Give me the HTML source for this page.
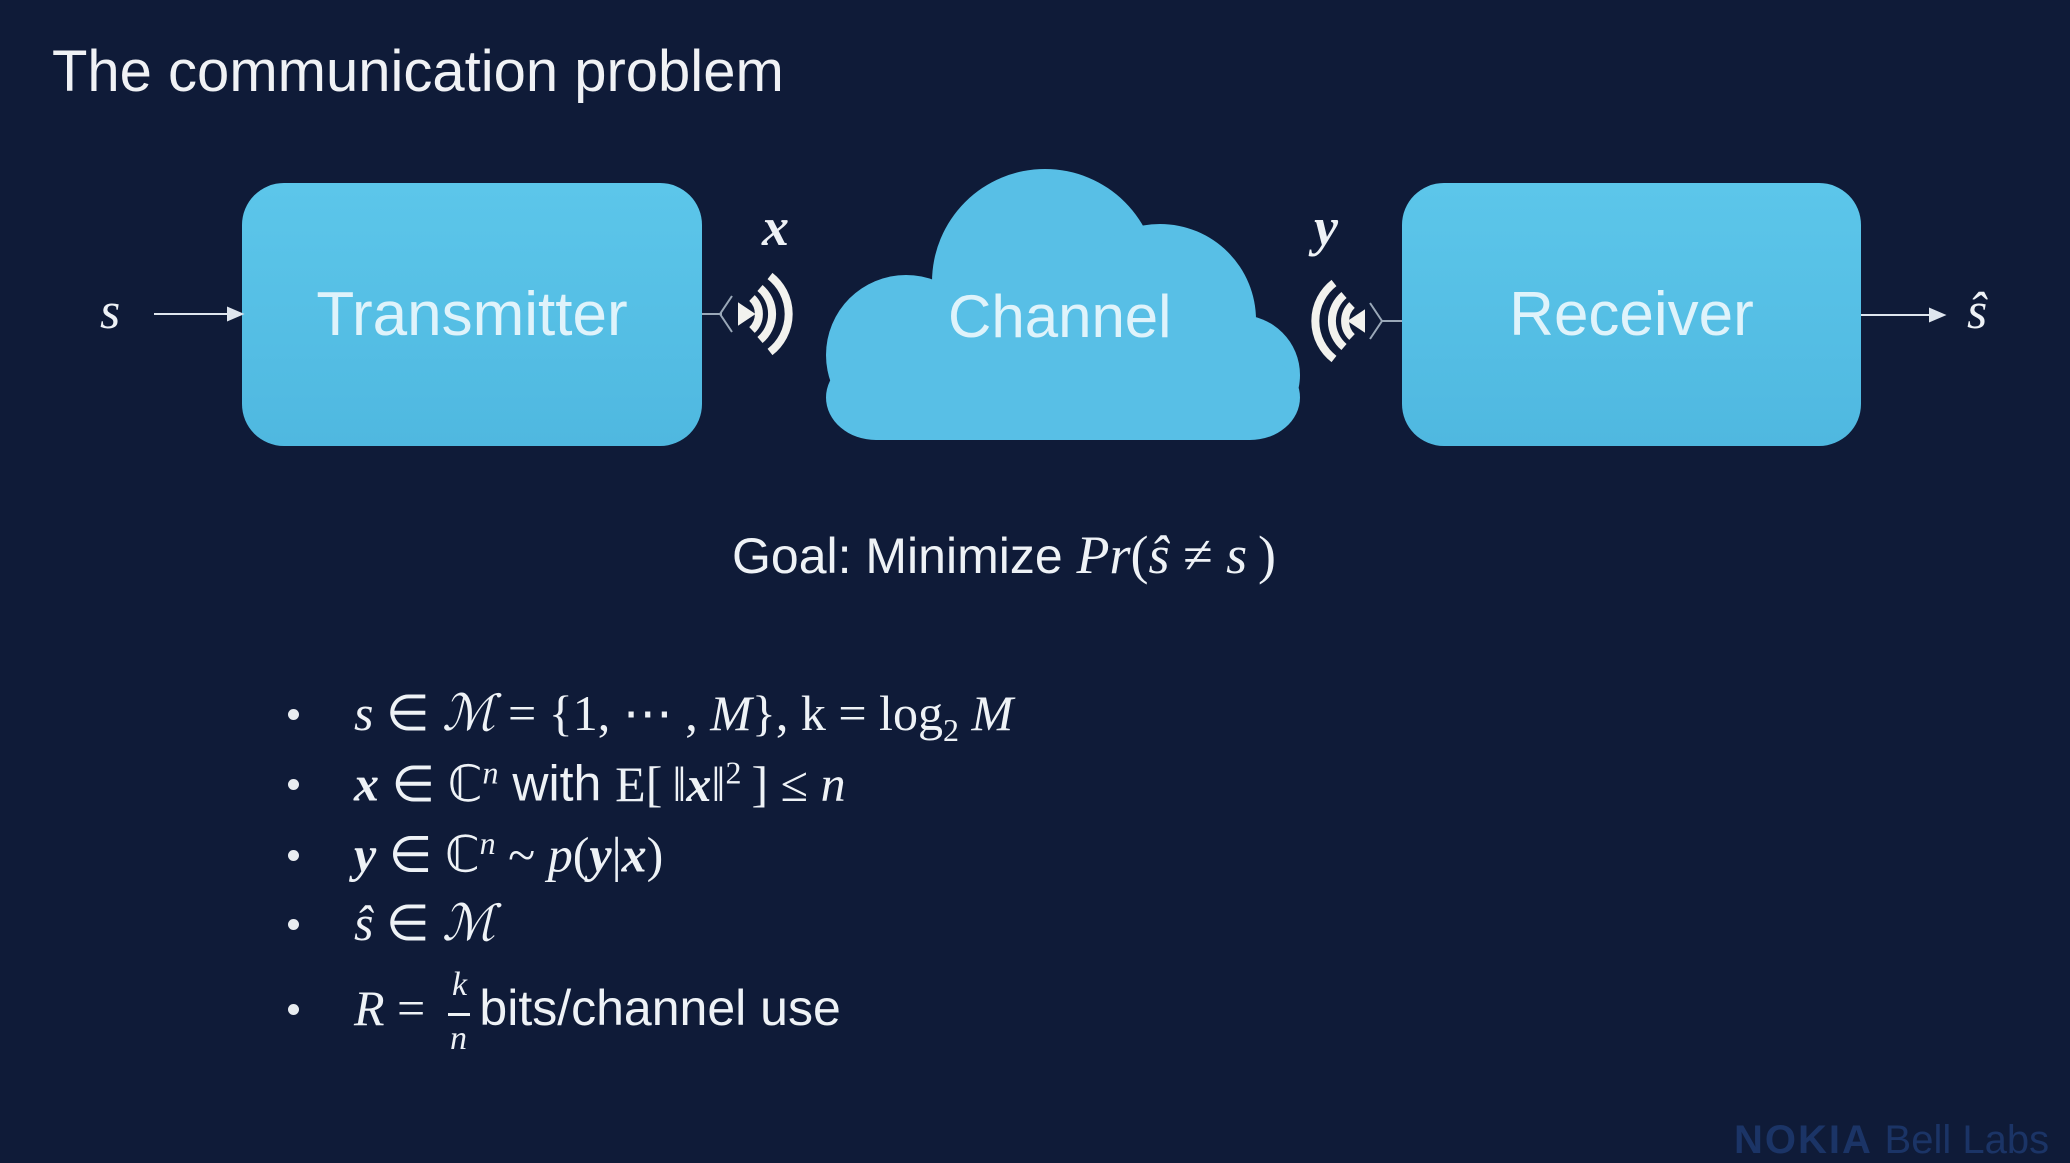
<!DOCTYPE html>
<html><head><meta charset="utf-8"><style>
body{margin:0;width:2070px;height:1152px;background:#0f1b38;overflow:hidden;position:relative;font-family:"Liberation Sans",sans-serif;color:#eef2f6}
.a{position:absolute;white-space:nowrap}
.box{position:absolute;background:linear-gradient(#5cc6ea,#4fb8e0);border-radius:42px;color:#dff3fb;font-size:62px;display:flex;align-items:center;justify-content:center}
.m{font-family:"Liberation Serif",serif;font-style:italic}
.r{font-family:"Liberation Serif",serif}
.b{font-size:50px;left:354px}
.dot{position:absolute;left:288px;width:11px;height:11px;border-radius:50%;background:#e8ecf0}
</style></head><body>
<div class="a" style="left:52px;top:38px;font-size:58px;color:#f0f2f5">The communication problem</div>

<div class="box" style="left:242px;top:183px;width:460px;height:263px">Transmitter</div>
<div class="box" style="left:1402px;top:183px;width:459px;height:263px">Receiver</div>

<svg class="a" style="left:0;top:0" width="2070" height="1152">
 <g fill="#58bfe6">
  <circle cx="1045" cy="282" r="113"/>
  <circle cx="1160" cy="320" r="96"/>
  <circle cx="1240" cy="375" r="60"/>
  <circle cx="906" cy="355" r="80"/>
  <rect x="826" y="355" width="474" height="85" rx="50"/>
  <rect x="900" y="290" width="340" height="150"/>
 </g>
 <g stroke="#dfe6ee" stroke-width="2" fill="#dfe6ee">
  <line x1="154" y1="314" x2="232" y2="314"/><polygon points="242,314 228,308 228,320"/>
  <line x1="1861" y1="315" x2="1932" y2="315"/><polygon points="1944,315 1930,309 1930,321"/>
 </g>
 <g stroke="#9aa8b8" stroke-width="2" fill="none">
  <line x1="702" y1="314" x2="722" y2="314"/><polyline points="732,296 720,314 732,332"/>
  <line x1="1382" y1="321" x2="1402" y2="321"/><polyline points="1370,303 1382,321 1370,339"/>
 </g>
 <g fill="none" stroke="#f2f2ee" stroke-width="8">
  <path d="M740,306 L752,314 L740,322 Z" fill="#f2f2ee" stroke-width="4"/>
  <path d="M752,298 A22,22 0 0 1 752,330"/>
  <path d="M760,288 A34,34 0 0 1 760,340"/>
  <path d="M770,276 A48,48 0 0 1 770,352"/>
  <path d="M1363,313 L1351,321 L1363,329 Z" fill="#f2f2ee" stroke-width="4"/>
  <path d="M1352,305 A22,22 0 0 0 1352,337"/>
  <path d="M1344,295 A34,34 0 0 0 1344,347"/>
  <path d="M1334,283 A48,48 0 0 0 1334,359"/>
 </g>
</svg>
<div class="a" style="left:948px;top:282px;font-size:60px;color:#dff3fb">Channel</div>

<div class="a m" style="left:100px;top:282px;font-size:52px">s</div>
<div class="a m" style="left:762px;top:196px;font-size:54px;font-weight:bold">x</div>
<div class="a m" style="left:1314px;top:196px;font-size:54px;font-weight:bold">y</div>
<div class="a m" style="left:1967px;top:282px;font-size:52px">ŝ</div>

<div class="a" style="left:732px;top:524px;font-size:50px">Goal: Minimize <span style="font-size:54px"><span class="m">Pr</span><span class="r">(</span><span class="m">ŝ</span><span class="r">&nbsp;≠&nbsp;</span><span class="m">s</span><span class="r">&thinsp;)</span></span></div>

<div class="dot" style="top:709px"></div>
<div class="dot" style="top:779px"></div>
<div class="dot" style="top:850px"></div>
<div class="dot" style="top:919px"></div>
<div class="dot" style="top:1004px"></div>
<div class="a b r" style="top:684px"><span class="m">s</span> ∈ <span class="m">ℳ</span> = {1, ⋯ , <span class="m">M</span>}, k = log<sub style="font-size:32px">2</sub> <span class="m">M</span></div>
<div class="a b" style="top:754px"><span class="m" style="font-weight:bold">x</span><span class="r"> ∈ ℂ<sup class="m" style="font-size:32px">n</sup></span> with <span class="r">E[&thinsp;‖<b class="m">x</b>‖<sup style="font-size:32px">2</sup>&thinsp;] ≤ </span><span class="m">n</span></div>
<div class="a b r" style="top:825px"><b class="m">y</b> ∈ ℂ<sup class="m" style="font-size:32px">n</sup> ~ <span class="m">p</span>(<b class="m">y</b>|<b class="m">x</b>)</div>
<div class="a b r" style="top:894px"><span class="m">ŝ</span> ∈ <span class="m">ℳ</span></div>
<div class="a b" style="top:979px"><span class="m">R</span><span class="r"> = </span>&nbsp;&nbsp;&nbsp;bits/channel use</div>
<div class="a m" style="left:452px;top:966px;font-size:34px">k</div>
<div class="a" style="left:448px;top:1013px;width:22px;height:3px;background:#eef2f6"></div>
<div class="a m" style="left:450px;top:1020px;font-size:34px">n</div>

<div class="a" style="left:1734px;top:1118px;font-size:40px;font-weight:bold;color:#1b3466;letter-spacing:2px">NOKIA <span style="font-weight:normal;letter-spacing:0">Bell Labs</span></div>
</body></html>
